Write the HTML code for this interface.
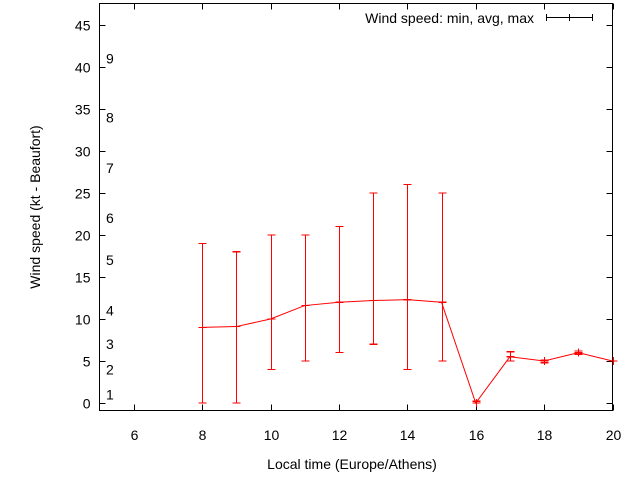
<!DOCTYPE html>
<html><head><meta charset="utf-8"><style>
body{margin:0;background:#fff}
svg{display:block;font-family:"Liberation Sans",sans-serif}
</style></head><body>
<svg id="c" width="640" height="480">
<g id="axes"></g><g id="marks"></g>
</svg>
<script>
const hours=[8,9,10,11,12,13,14,15,16,17,18,19,20];
const avgVals=[9,9.1,10,11.6,12,12.2,12.3,12,0,5.5,5,6,5];
const minVals=[0,0,4,5,6,7,4,5,0,5,4.8,5.8,5];
const maxVals=[19,18,20,20,21,25,26,25,0.2,6.1,5.1,6.2,5];
const yTicks=[0,5,10,15,20,25,30,35,40,45];
const xTicks=[6,8,10,12,14,16,18,20];
const bftLabels=["1","2","3","4","5","6","7","8","9"];
const bftPos=[1,4,7,11,17,22,28,34,41];
const L=99.5,R=612.5,T=3.5,B=410.5;
const X=h=>L+(h-5)/(20-5)*(R-L);
const Y=v=>403-v*8.4;
const NS="http://www.w3.org/2000/svg";
const ax=document.getElementById('axes'),mk=document.getElementById('marks');
function el(p,t,a,txt){const e=document.createElementNS(NS,t);for(const k in a)e.setAttribute(k,a[k]);if(txt!==undefined)e.textContent=txt;p.appendChild(e);return e;}
let f=el(ax,'rect',{x:L,y:T,width:R-L,height:B-T,fill:'none',stroke:'#000','stroke-width':1});

yTicks.forEach(v=>{const y=Math.round(Y(v))+0.5;
el(ax,'line',{x1:L,x2:L+6,y1:y,y2:y,stroke:'#000'});
el(ax,'line',{x1:R-6,x2:R,y1:y,y2:y,stroke:'#000'});
let t=el(ax,'text',{x:L-9,y:y+5,'text-anchor':'end','font-size':14},v);
});
xTicks.forEach(h=>{const x=Math.round(X(h))+0.5;
el(ax,'line',{x1:x,x2:x,y1:B,y2:B-6,stroke:'#000'});
el(ax,'line',{x1:x,x2:x,y1:T,y2:T+6,stroke:'#000'});
let t=el(ax,'text',{x:x,y:440,'text-anchor':'middle','font-size':14},h);
});
bftLabels.forEach((s,i)=>{let t=el(ax,'text',{x:106,y:Y(bftPos[i])+5,'font-size':14},s);
});
let xt=el(ax,'text',{x:352,y:469,'text-anchor':'middle','font-size':14},'Local time (Europe/Athens)');

let yt=el(ax,'text',{x:40,y:207,'text-anchor':'middle','font-size':14,transform:'rotate(-90 40 207)'},'Wind speed (kt - Beaufort)');

let lg=el(ax,'text',{x:534,y:23,'text-anchor':'end','font-size':14},'Wind speed: min, avg, max');

el(ax,'line',{x1:546,x2:593,y1:17.5,y2:17.5,stroke:'#000'});
el(ax,'line',{x1:546.5,x2:546.5,y1:14,y2:21,stroke:'#000'});
el(ax,'line',{x1:592.5,x2:592.5,y1:14,y2:21,stroke:'#000'});
el(ax,'line',{x1:569.5,x2:569.5,y1:14,y2:21,stroke:'#000'});
let pts=hours.map((h,i)=>X(h)+','+Y(avgVals[i])).join(' ');
let pl=el(mk,'polyline',{points:pts,fill:'none',stroke:'#ff0000','stroke-width':1});

hours.forEach((h,i)=>{const x=Math.round(X(h))+0.5;
const s={stroke:'#ff0000','stroke-width':1.2,'shape-rendering':'crispEdges'};
let g=el(mk,'g',{});

el(g,'line',Object.assign({x1:x,x2:x,y1:Y(minVals[i]),y2:Y(maxVals[i])},s));
el(g,'line',Object.assign({x1:x-4,x2:x+4,y1:Y(minVals[i]),y2:Y(minVals[i])},s));
el(g,'line',Object.assign({x1:x-4,x2:x+4,y1:Y(maxVals[i]),y2:Y(maxVals[i])},s));
el(g,'line',Object.assign({x1:x-4,x2:x+4,y1:Y(avgVals[i]),y2:Y(avgVals[i])},s));
el(g,'line',Object.assign({x1:x,x2:x,y1:Y(avgVals[i])-4,y2:Y(avgVals[i])+4},s));});
</script>
</body></html>
